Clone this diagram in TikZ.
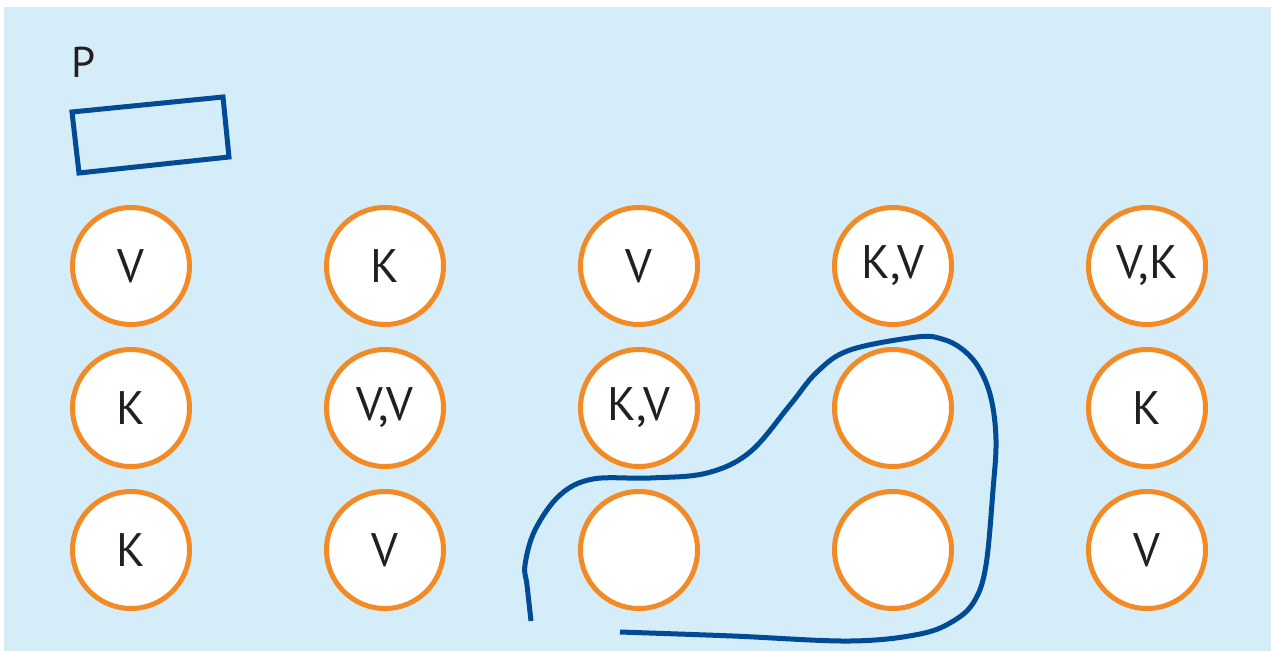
\documentclass[tikz,border=0pt]{standalone}
\usepackage{fontspec}
\setmainfont{PT Sans}
\usetikzlibrary{positioning}
\definecolor{skyfill}{HTML}{D5ECF9}
\definecolor{ringorange}{HTML}{F28A26}
\definecolor{lineblue}{HTML}{004B93}
\definecolor{inkblack}{HTML}{231F20}
\tikzset{
    ring/.style={circle, draw=ringorange, line width=5pt, fill=white,
        minimum size=117pt, inner sep=0pt, text=inkblack,
        font=\fontsize{47}{50}\selectfont}, % the round cells
    outline/.style={draw=lineblue, line width=5pt}, % blue strokes
}

\begin{document}
\begin{tikzpicture}[x=1pt, y=-1pt, on grid, node distance=142pt]
    \useasboundingbox (0,0) rectangle (1271,651);
    \fill[skyfill] (4,7) rectangle (1271,651);

    % P and its box
    \node[text=inkblack, font=\fontsize{43}{46}\selectfont] (p) at (84,62) {P};
    \draw[outline, line join=miter] (72,112) -- (223,97) -- (229,157) -- (79,173) -- cycle;

    % Cells
    \node[ring] (a1) at (131,266) {V};
    \node[ring] (a2) [right=254pt of a1] {K};
    \node[ring] (a3) [right=254pt of a2] {V};
    \node[ring] (a4) [right=254pt of a3] {K,V};
    \node[ring] (a5) [right=254pt of a4] {V,K};

    \node[ring] (b1) [below=of a1] {K};
    \node[ring] (b2) [below=of a2] {V,V};
    \node[ring] (b3) [below=of a3] {K,V};
    \node[ring] (b4) [below=of a4] {};
    \node[ring] (b5) [below=of a5] {K};

    \node[ring] (c1) [below=of b1] {K};
    \node[ring] (c2) [below=of b2] {V};
    \node[ring] (c3) [below=of b3] {};
    \node[ring] (c4) [below=of b4] {};
    \node[ring] (c5) [below=of b5] {V};

    % Loop round the empty cells
    \draw[outline] plot[smooth, tension=0.6] coordinates {
        (531,621) (527,585) (525,565) (535,530) (560,495) (593,479)
        (650,478) (707,473) (750,452) (790,405) (817,372) (850,350)
        (917,337) (942,339) (962,349) (979,368) (991,398) (996,440)
        (993,490) (986,565) (975,600) (955,620) (920,634) (850,641)
        (733,636) (620,632)};
\end{tikzpicture}
\end{document}
